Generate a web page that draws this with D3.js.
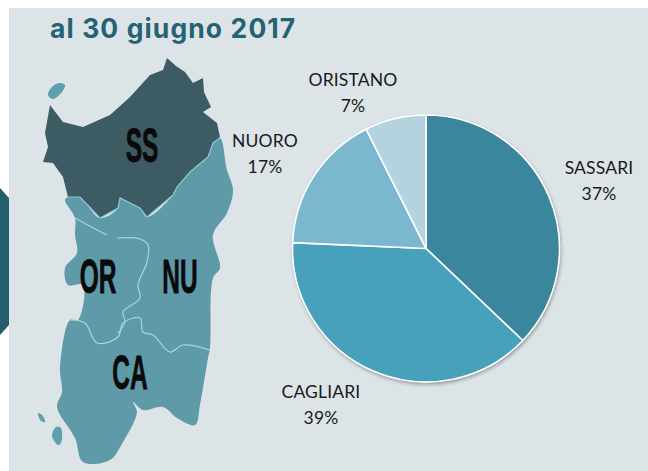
<!DOCTYPE html>
<html><head><meta charset="utf-8">
<script src="https://cdn.jsdelivr.net/npm/d3@7"></script>
<style>html,body{margin:0;padding:0;background:#fff;overflow:hidden}svg{display:block}</style>
</head><body><svg id="c" width="648" height="471"></svg>
<script>
const categories = ["SASSARI","CAGLIARI","NUORO","ORISTANO"];
const shares = [37.1,38.6,16.9,7.4];
const sliceColors = ["#3a869d","#47a1bb","#7bb8cf","#b5d3df"];
const labelAnchors = [[599,168],[321,392],[265,141],[353,80]];
const titleText = "al 30 giugno 2017";
const mapCodes = ["SS","OR","NU","CA"];
const mapCodeAnchors = [[142,145],[98,276],[180,276],[130,372]];

const outlineSS = [[167,58],[176,66],[185,72],[193,83],[203,78],[204,92],[211,107],[203,112],[217,123],[220,137],[213,143],[208,157],[190,172],[177,187],[173,195],[147,217],[140,208],[120,198],[118,208],[100,218],[80,197],[68,197],[63,177],[53,163],[43,162],[48,147],[45,133],[50,105],[63,122],[83,127],[110,115],[130,97],[150,75],[163,70]];
const outlineSouth = [[220,138],[227,170],[233,190],[227,213],[213,235],[220,268],[213,278],[210,348],[208,358],[200,405],[195,425],[177,418],[163,407],[143,410],[133,402],[137,412],[123,442],[110,460],[83,462],[75,438],[57,407],[62,392],[60,368],[70,320],[78,320],[83,285],[68,285],[65,268],[77,253],[75,235],[75,218],[65,200],[68,197],[80,197],[100,218],[118,208],[120,198],[140,208],[147,217],[173,195],[177,187],[190,172],[208,157],[213,143]];
const borderOrNu = [[117,238],[140,239],[148,245],[147,262],[138,285],[140,298],[123,312],[125,322],[118,333]];
const borderCa = [[70,320],[85,323],[97,343],[118,337],[123,323],[140,318],[143,332],[153,335],[170,352],[183,345],[210,350]];
const borderNorth = [[75,218],[97,230],[107,235]];
const borderSS = [[68,197],[80,197],[100,218],[118,208],[120,198],[140,208],[147,217],[173,195],[177,187],[190,172],[208,157],[213,143],[220,138]];
const islandA = [[48,95],[51,88],[59,83],[65,85],[62,92],[53,99]];
const islandB = [[38,413],[43,416],[45,422],[41,421]];
const islandC = [[52,436],[56,427],[61,428],[61,443],[58,445]];
const arrowShape = [[0,188],[9,198],[9,325],[0,335]];

const svg = d3.select("#c");
const defs = svg.append("defs");
const f = defs.append("filter").attr("id","sh").attr("x","-10%").attr("y","-10%").attr("width","120%").attr("height","120%");
f.append("feDropShadow").attr("dx",1).attr("dy",2).attr("stdDeviation",2).attr("flood-color","#000").attr("flood-opacity",.4);

svg.append("rect").attr("x",9).attr("y",8).attr("width",639).attr("height",463).attr("fill","#dce4e8");
const line = d3.line();
const closed = d3.line().curve(d3.curveLinearClosed);
const smooth = d3.line().curve(d3.curveCatmullRomClosed.alpha(0.5));
const smoothOpen = d3.line().curve(d3.curveCatmullRom.alpha(0.5));
svg.append("path").attr("d",closed(arrowShape)).attr("fill","#235e6d");

const map = svg.append("g");
map.append("path").attr("d",smooth(outlineSouth)).attr("fill","#5f9aa8");
map.append("path").attr("d",closed(outlineSS)).attr("fill","#3c5b63");
[islandA,islandB,islandC].forEach(s=>map.append("path").attr("d",smooth(s)).attr("fill","#5f9fae"));
[borderOrNu,borderCa,borderNorth].forEach(s=>map.append("path").attr("d",smoothOpen(s)).attr("fill","none").attr("stroke","#a9d3dc").attr("stroke-width",1.2));
map.append("path").attr("d",line(borderSS)).attr("fill","none").attr("stroke","#8ec6d0").attr("stroke-width",1.2);

mapCodes.forEach((t,i)=>{
  const [x,y]=mapCodeAnchors[i];
  map.append("text").attr("transform",`translate(${x},${y}) scale(0.68,1.36)`)
    .attr("text-anchor","middle").attr("dominant-baseline","central")
    .attr("font-family","'Liberation Sans Narrow','Liberation Sans',sans-serif").attr("font-weight",700)
    .attr("font-size",36).attr("fill","#0a0a0a").attr("stroke","#0a0a0a").attr("stroke-width",0.6).text(t);
});

svg.append("text").attr("x",50).attr("y",38).attr("font-family","Inter,sans-serif").attr("font-weight",700)
  .attr("font-size",26.5).attr("letter-spacing",1.1).attr("fill","#256274").text(titleText);

const cx=426, cy=248.5, r=133.5;
const pie = d3.pie().sort(null)(shares);
const arc = d3.arc().innerRadius(0).outerRadius(r);
const g = svg.append("g").attr("transform",`translate(${cx},${cy})`);
g.append("circle").attr("r",r).attr("fill","#fff").attr("filter","url(#sh)");
g.selectAll("path").data(pie).join("path").attr("d",arc)
  .attr("fill",(d,i)=>sliceColors[i]).attr("stroke","#fff").attr("stroke-width",1.6);

const fmt = d3.format(".0f");
categories.forEach((c,i)=>{
  const [x,y]=labelAnchors[i];
  const t=svg.append("text").attr("text-anchor","middle").attr("font-family","Lato,sans-serif").attr("font-size",17.5).attr("letter-spacing",0.15).attr("fill","#1a1a1a");
  t.append("tspan").attr("x",x).attr("y",y+6).text(c);
  t.append("tspan").attr("x",x).attr("y",y+32).text(fmt(shares[i])+"%");
});
</script></body></html>
